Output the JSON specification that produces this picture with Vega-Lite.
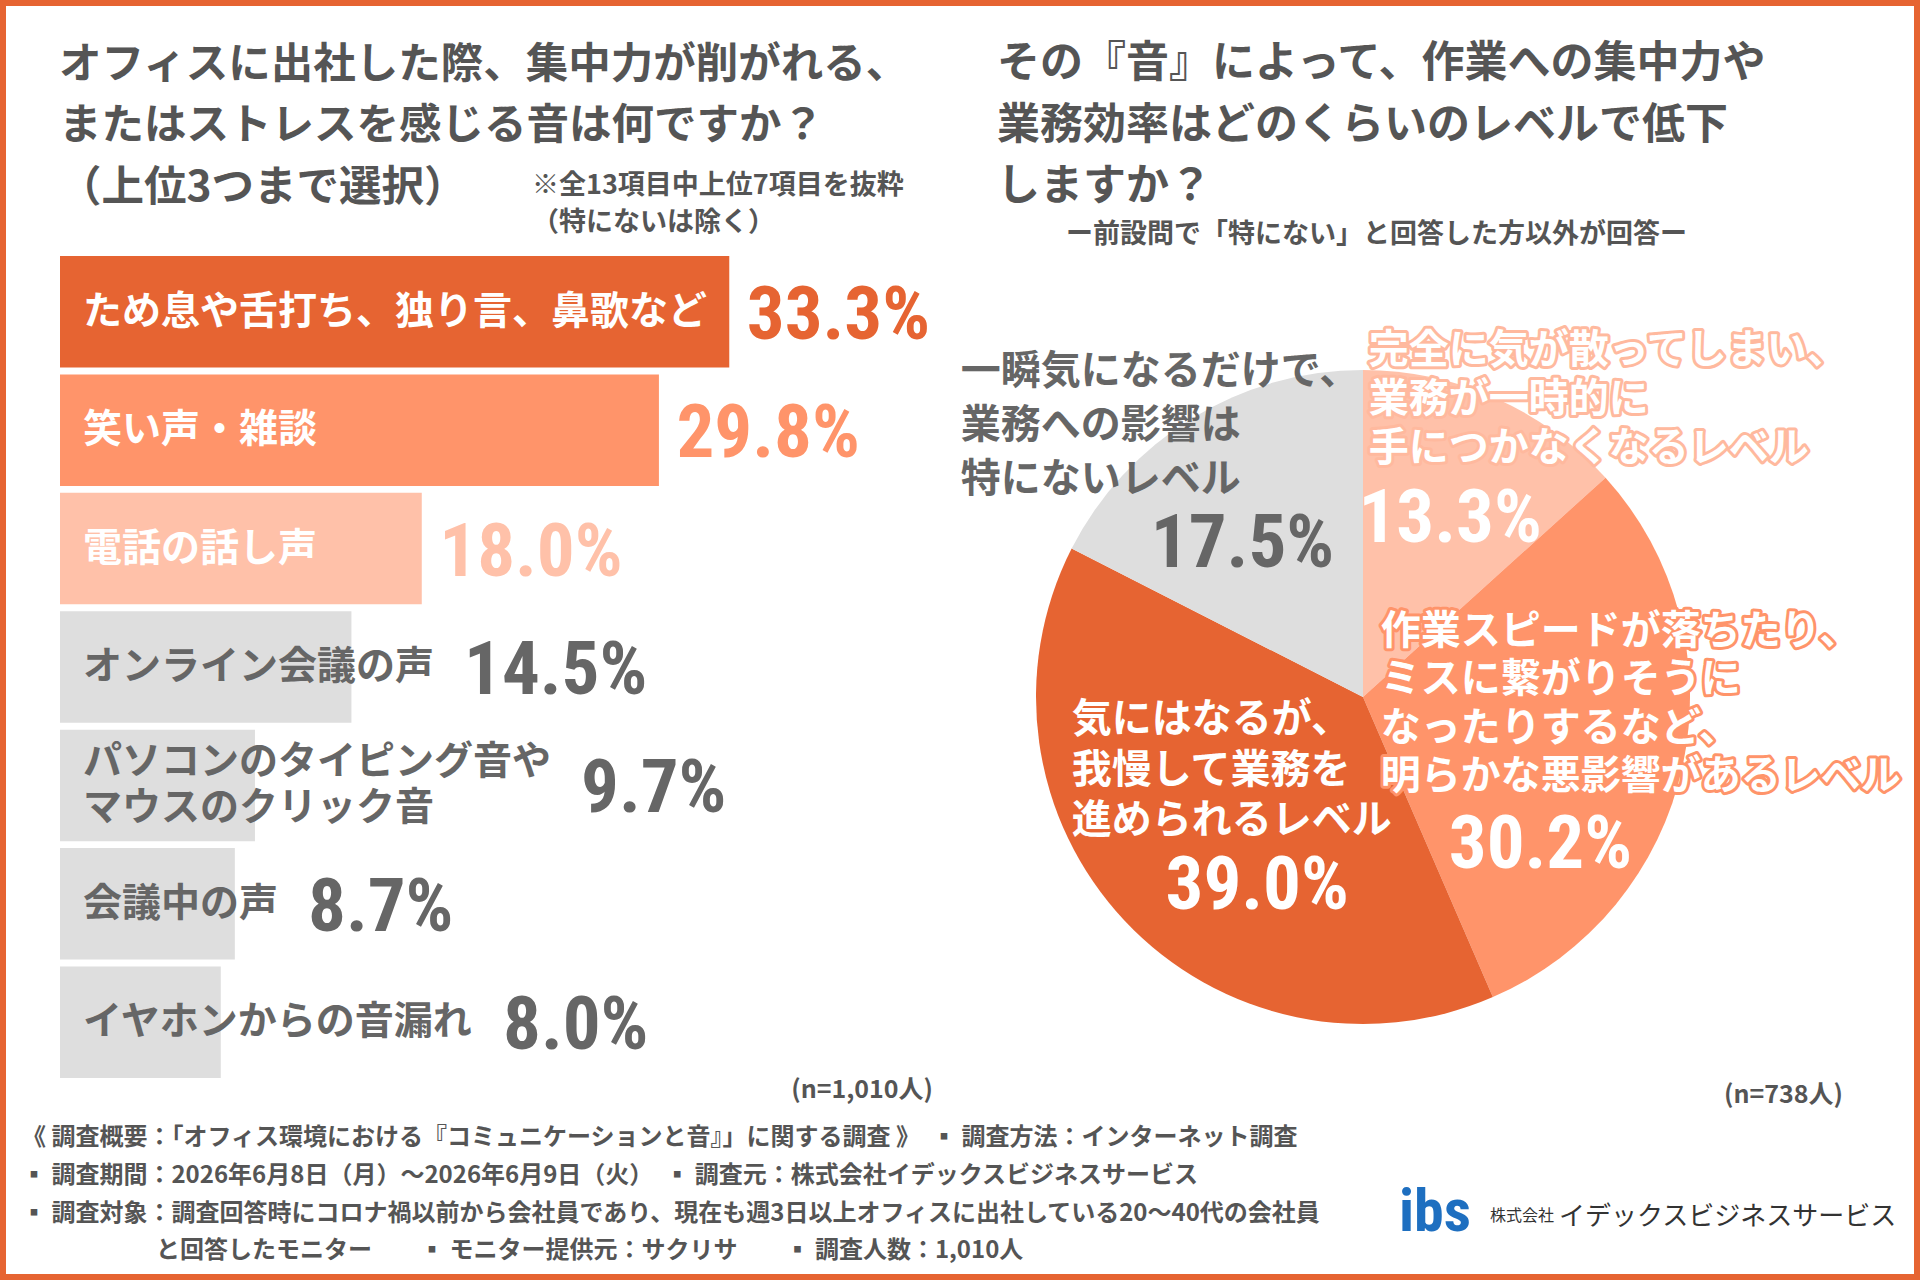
{
  "$schema": "https://vega.github.io/schema/vega-lite/v6.json",
  "background": "white",
  "padding": 0,
  "spacing": 0,
  "resolve": {"scale": {"color": "independent"}},
  "config": {
    "view": {"stroke": null},
    "font": "Noto Sans CJK JP",
    "title": {
      "font": "Noto Sans CJK JP",
      "fontWeight": "bold",
      "color": "#555555",
      "anchor": "start",
      "frame": "group",
      "orient": "bottom",
      "baseline": "top",
      "align": "left"
    }
  },
  "vconcat": [
    {
      "width": 1920, "height": 6,
      "view": {"fill": "#E66432"},
      "data": {"values": [{}]},
      "mark": {"type": "text", "fontSize": 1},
      "encoding": {"text": {"value": ""}}
    },
    {
      "spacing": 0,
      "bounds": "flush",
      "hconcat": [
        {
          "width": 6, "height": 250,
          "view": {"fill": "#E66432"},
          "data": {"values": [{}]},
          "mark": {"type": "text", "fontSize": 1},
          "encoding": {"text": {"value": ""}}
        },
        {
          "width": 954, "height": 250,
          "title": {
            "text": ["オフィスに出社した際、集中力が削がれる、", "またはストレスを感じる音は何ですか？", "（上位3つまで選択）"],
            "fontSize": 42.5, "lineHeight": 61.5, "offset": -212.4, "dx": 53
          },
          "data": {"values": [{}]},
          "mark": {"type": "text", "fontSize": 1},
          "encoding": {"text": {"value": ""}}
        },
        {
          "width": 1, "height": 250,
          "title": {
            "text": ["※全13項目中上位7項目を抜粋", "（特にないは除く）"],
            "fontSize": 27, "lineHeight": 37, "offset": -83.1, "dx": -428
          },
          "data": {"values": [{}]},
          "mark": {"type": "text", "fontSize": 1},
          "encoding": {"text": {"value": ""}}
        },
        {
          "width": 952, "height": 250,
          "title": {
            "text": ["その『音』によって、作業への集中力や", "業務効率はどのくらいのレベルで低下", "しますか？"],
            "fontSize": 43, "lineHeight": 61.5, "offset": -212.6, "dx": 36
          },
          "data": {"values": [{}]},
          "mark": {"type": "text", "fontSize": 1},
          "encoding": {"text": {"value": ""}}
        },
        {
          "width": 1, "height": 250,
          "title": {
            "text": "ー前設問で「特にない」と回答した方以外が回答ー",
            "fontSize": 27, "offset": -34.1, "dx": -847
          },
          "data": {"values": [{}]},
          "mark": {"type": "text", "fontSize": 1},
          "encoding": {"text": {"value": ""}}
        },
        {
          "width": 6, "height": 250,
          "view": {"fill": "#E66432"},
          "data": {"values": [{}]},
          "mark": {"type": "text", "fontSize": 1},
          "encoding": {"text": {"value": ""}}
        }
      ]
    },
    {
      "spacing": 0,
      "bounds": "flush",
      "resolve": {"scale": {"color": "independent"}},
      "hconcat": [
        {
          "width": 6, "height": 1018,
          "view": {"fill": "#E66432"},
          "data": {"values": [{}]},
          "mark": {"type": "text", "fontSize": 1},
          "encoding": {"text": {"value": ""}}
        },
        {
          "width": 54, "height": 1018,
          "title": {
            "text": [
              "《 調査概要：「オフィス環境における『コミュニケーションと音』」に関する調査 》　▪ 調査方法：インターネット調査",
              "▪ 調査期間：2026年6月8日（月）〜2026年6月9日（火）　▪ 調査元：株式会社イデックスビジネスサービス",
              "▪ 調査対象：調査回答時にコロナ禍以前から会社員であり、現在も週3日以上オフィスに出社している20〜40代の会社員"
            ],
            "fontSize": 24, "lineHeight": 37.7, "offset": -147.8, "dx": 16
          },
          "data": {"values": [{}]},
          "mark": {"type": "text", "fontSize": 1},
          "encoding": {"text": {"value": ""}}
        },
        {
          "width": 900, "height": 1018,
          "title": {
            "text": "(n=1,010人)",
            "anchor": "end", "align": "right",
            "fontSize": 25, "offset": -196, "dx": -27
          },
          "data": {
            "values": [
              {"item": "ため息や舌打ち、独り言、鼻歌など", "pct": 33.3},
              {"item": "笑い声・雑談", "pct": 29.8},
              {"item": "電話の話し声", "pct": 18.0},
              {"item": "オンライン会議の声", "pct": 14.5},
              {"item": "パソコンのタイピング音や\nマウスのクリック音", "pct": 9.7},
              {"item": "会議中の声", "pct": 8.7},
              {"item": "イヤホンからの音漏れ", "pct": 8.0}
            ]
          },
          "transform": [
            {"calculate": "format(datum.pct, '.1f') + '%'", "as": "label"},
            {"calculate": "max(datum.pct + 0.87, (53 + 39 * max(length(split(datum.item, '\\n')[0]), length(peek(split(datum.item, '\\n'))))) * 44.78 / 900)", "as": "labelAt"}
          ],
          "encoding": {
            "y": {
              "field": "item", "type": "nominal", "sort": null, "axis": null,
              "scale": {
                "domain": ["ため息や舌打ち、独り言、鼻歌など", "笑い声・雑談", "電話の話し声", "オンライン会議の声", "パソコンのタイピング音や\nマウスのクリック音", "会議中の声", "イヤホンからの音漏れ"],
                "paddingInner": 0.058, "paddingOuter": 0.8276, "align": 0, "round": false
              }
            }
          },
          "layer": [
            {
              "mark": {"type": "bar"},
              "encoding": {
                "x": {"field": "pct", "type": "quantitative", "axis": null, "scale": {"domain": [0, 44.78], "nice": false}},
                "color": {
                  "field": "item", "type": "nominal", "legend": null,
                  "scale": {
                    "domain": ["ため息や舌打ち、独り言、鼻歌など", "笑い声・雑談", "電話の話し声", "オンライン会議の声", "パソコンのタイピング音や\nマウスのクリック音", "会議中の声", "イヤホンからの音漏れ"],
                    "range": ["#E66432", "#FF946A", "#FFC1A9", "#DEDEDE", "#DEDEDE", "#DEDEDE", "#DEDEDE"]
                  }
                }
              }
            },
            {
              "transform": [{"filter": "indexof(datum.item, '\\n') < 0"}],
              "mark": {"type": "text", "align": "left", "baseline": "middle", "dx": 23, "fontSize": 39, "fontWeight": "bold"},
              "encoding": {
                "x": {"datum": 0, "type": "quantitative", "axis": null, "scale": {"domain": [0, 44.78], "nice": false}},
                "text": {"field": "item"},
                "color": {"condition": {"test": "datum.pct >= 18", "value": "white"}, "value": "#666666"}
              }
            },
            {
              "transform": [{"filter": "indexof(datum.item, '\\n') >= 0"}],
              "mark": {"type": "text", "align": "left", "baseline": "middle", "dx": 23, "dy": -23, "fontSize": 39, "fontWeight": "bold", "lineBreak": "\n", "lineHeight": 46},
              "encoding": {
                "x": {"datum": 0, "type": "quantitative", "axis": null, "scale": {"domain": [0, 44.78], "nice": false}},
                "text": {"field": "item"},
                "color": {"condition": {"test": "datum.pct >= 18", "value": "white"}, "value": "#666666"}
              }
            },
            {
              "mark": {"type": "text", "align": "left", "baseline": "middle", "dy": 4, "fontSize": 75, "fontWeight": "bold", "font": "Roboto Condensed, Liberation Sans Narrow, DejaVu Sans Condensed, sans-serif"},
              "encoding": {
                "x": {"field": "labelAt", "type": "quantitative", "axis": null, "scale": {"domain": [0, 44.78], "nice": false}},
                "text": {"field": "label"},
                "color": {"condition": {"test": "datum.pct >= 18", "field": "item", "type": "nominal", "legend": null}, "value": "#666666"}
              }
            }
          ]
        },
        {
          "width": 806, "height": 882,
          "title": {
            "text": "(n=738人)",
            "anchor": "end", "align": "right",
            "fontSize": 25, "offset": -55, "dx": 77
          },
          "data": {
            "values": [
              {"level": "完全に気が散ってしまい、\n業務が一時的に\n手につかなくなるレベル", "pct": 13.3},
              {"level": "作業スピードが落ちたり、\nミスに繋がりそうに\nなったりするなど、\n明らかな悪影響があるレベル", "pct": 30.2},
              {"level": "気にはなるが、\n我慢して業務を\n進められるレベル", "pct": 39.0},
              {"level": "一瞬気になるだけで、\n業務への影響は\n特にないレベル", "pct": 17.5}
            ]
          },
          "transform": [
            {"window": [{"op": "row_number", "as": "k"}, {"op": "sum", "field": "pct", "as": "cum"}], "frame": [null, 0]},
            {"calculate": "datum.cum - datum.pct / 2", "as": "mid"},
            {"calculate": "format(datum.pct, '.1f') + '%'", "as": "label"}
          ],
          "layer": [
            {
              "mark": {"type": "arc", "outerRadius": 327},
              "encoding": {
                "theta": {"field": "pct", "type": "quantitative", "stack": true, "scale": {"domain": [0, 100]}},
                "order": {"field": "k", "type": "quantitative"},
                "color": {
                  "field": "level", "type": "nominal", "legend": null,
                  "scale": {
                    "domain": ["完全に気が散ってしまい、\n業務が一時的に\n手につかなくなるレベル", "作業スピードが落ちたり、\nミスに繋がりそうに\nなったりするなど、\n明らかな悪影響があるレベル", "気にはなるが、\n我慢して業務を\n進められるレベル", "一瞬気になるだけで、\n業務への影響は\n特にないレベル"],
                    "range": ["#FFC1A9", "#FF946A", "#E66432", "#DEDEDE"]
                  }
                }
              }
            },
            {
              "transform": [{"filter": "datum.k == 1"}],
              "mark": {"type": "text", "radius": 320, "dx": -124, "dy": -54, "align": "left", "baseline": "middle", "fontSize": 40, "fontWeight": "bold", "lineBreak": "\n", "lineHeight": 49, "fill": "#FFB99E", "stroke": "#FFB99E", "strokeWidth": 6, "strokeJoin": "round"},
              "encoding": {"theta": {"field": "mid", "type": "quantitative", "stack": null, "scale": {"domain": [0, 100]}}, "text": {"field": "level"}}
            },
            {
              "transform": [{"filter": "datum.k == 1"}],
              "mark": {"type": "text", "radius": 320, "dx": -124, "dy": -54, "align": "left", "baseline": "middle", "fontSize": 40, "fontWeight": "bold", "lineBreak": "\n", "lineHeight": 49, "fill": "white"},
              "encoding": {"theta": {"field": "mid", "type": "quantitative", "stack": null, "scale": {"domain": [0, 100]}}, "text": {"field": "level"}}
            },
            {
              "transform": [{"filter": "datum.k == 2"}],
              "mark": {"type": "text", "radius": 320, "dx": -295, "dy": -133, "align": "left", "baseline": "middle", "fontSize": 40, "fontWeight": "bold", "lineBreak": "\n", "lineHeight": 48.5, "fill": "#FF946A", "stroke": "#FF946A", "strokeWidth": 6, "strokeJoin": "round"},
              "encoding": {"theta": {"field": "mid", "type": "quantitative", "stack": null, "scale": {"domain": [0, 100]}}, "text": {"field": "level"}}
            },
            {
              "transform": [{"filter": "datum.k == 2"}],
              "mark": {"type": "text", "radius": 320, "dx": -295, "dy": -133, "align": "left", "baseline": "middle", "fontSize": 40, "fontWeight": "bold", "lineBreak": "\n", "lineHeight": 48.5, "fill": "white"},
              "encoding": {"theta": {"field": "mid", "type": "quantitative", "stack": null, "scale": {"domain": [0, 100]}}, "text": {"field": "level"}}
            },
            {
              "transform": [{"filter": "datum.k == 3"}],
              "mark": {"type": "text", "radius": 320, "dx": -58, "dy": -196, "align": "left", "baseline": "middle", "fontSize": 40, "fontWeight": "bold", "lineBreak": "\n", "lineHeight": 50.5, "fill": "white"},
              "encoding": {"theta": {"field": "mid", "type": "quantitative", "stack": null, "scale": {"domain": [0, 100]}}, "text": {"field": "level"}}
            },
            {
              "transform": [{"filter": "datum.k == 4"}],
              "mark": {"type": "text", "radius": 320, "dx": -235, "dy": -52, "align": "left", "baseline": "middle", "fontSize": 40, "fontWeight": "bold", "lineBreak": "\n", "lineHeight": 54, "fill": "#666666"},
              "encoding": {"theta": {"field": "mid", "type": "quantitative", "stack": null, "scale": {"domain": [0, 100]}}, "text": {"field": "level"}}
            },
            {
              "transform": [{"filter": "datum.k == 1"}],
              "mark": {"type": "text", "radius": 200, "dx": 6, "dy": 5, "align": "center", "baseline": "middle", "fontSize": 75, "fontWeight": "bold", "font": "Roboto Condensed, Liberation Sans Narrow, DejaVu Sans Condensed, sans-serif", "fill": "white"},
              "encoding": {"theta": {"field": "mid", "type": "quantitative", "stack": null, "scale": {"domain": [0, 100]}}, "text": {"field": "label"}}
            },
            {
              "transform": [{"filter": "datum.k == 2"}],
              "mark": {"type": "text", "radius": 200, "dx": -18, "dy": 106, "align": "center", "baseline": "middle", "fontSize": 75, "fontWeight": "bold", "font": "Roboto Condensed, Liberation Sans Narrow, DejaVu Sans Condensed, sans-serif", "fill": "white"},
              "encoding": {"theta": {"field": "mid", "type": "quantitative", "stack": null, "scale": {"domain": [0, 100]}}, "text": {"field": "label"}}
            },
            {
              "transform": [{"filter": "datum.k == 3"}],
              "mark": {"type": "text", "radius": 200, "dx": 40, "dy": 52, "align": "center", "baseline": "middle", "fontSize": 75, "fontWeight": "bold", "font": "Roboto Condensed, Liberation Sans Narrow, DejaVu Sans Condensed, sans-serif", "fill": "white"},
              "encoding": {"theta": {"field": "mid", "type": "quantitative", "stack": null, "scale": {"domain": [0, 100]}}, "text": {"field": "label"}}
            },
            {
              "transform": [{"filter": "datum.k == 4"}],
              "mark": {"type": "text", "radius": 200, "dx": -16, "dy": 18, "align": "center", "baseline": "middle", "fontSize": 75, "fontWeight": "bold", "font": "Roboto Condensed, Liberation Sans Narrow, DejaVu Sans Condensed, sans-serif", "fill": "#666666"},
              "encoding": {"theta": {"field": "mid", "type": "quantitative", "stack": null, "scale": {"domain": [0, 100]}}, "text": {"field": "label"}}
            }
          ]
        },
        {
          "width": 145, "height": 1018,
          "title": {
            "text": "ibs",
            "font": "Roboto Condensed, Liberation Sans Narrow, DejaVu Sans Condensed, sans-serif",
            "fontSize": 60, "fontWeight": "bold", "color": "#1E6FC0", "offset": -90.4, "dx": -367
          },
          "data": {"values": [{}]},
          "mark": {"type": "text", "fontSize": 1},
          "encoding": {"text": {"value": ""}}
        },
        {
          "width": 1, "height": 1018,
          "title": {
            "text": "と回答したモニター　　▪ モニター提供元：サクリサ　　▪ 調査人数：1,010人",
            "fontSize": 24, "offset": -34.8, "dx": -1755
          },
          "data": {"values": [{}]},
          "mark": {"type": "text", "fontSize": 1},
          "encoding": {"text": {"value": ""}}
        },
        {
          "width": 1, "height": 1018,
          "title": {
            "text": "株式会社",
            "fontSize": 16, "fontWeight": "normal", "color": "#333333", "offset": -65.6, "dx": -422
          },
          "data": {"values": [{}]},
          "mark": {"type": "text", "fontSize": 1},
          "encoding": {"text": {"value": ""}}
        },
        {
          "width": 1, "height": 1018,
          "title": {
            "text": "イデックスビジネスサービス",
            "fontSize": 26, "fontWeight": "normal", "color": "#333333", "offset": -69.7, "dx": -354
          },
          "data": {"values": [{}]},
          "mark": {"type": "text", "fontSize": 1},
          "encoding": {"text": {"value": ""}}
        },
        {
          "width": 6, "height": 1018,
          "view": {"fill": "#E66432"},
          "data": {"values": [{}]},
          "mark": {"type": "text", "fontSize": 1},
          "encoding": {"text": {"value": ""}}
        }
      ]
    },
    {
      "width": 1920, "height": 6,
      "view": {"fill": "#E66432"},
      "data": {"values": [{}]},
      "mark": {"type": "text", "fontSize": 1},
      "encoding": {"text": {"value": ""}}
    }
  ]
}
